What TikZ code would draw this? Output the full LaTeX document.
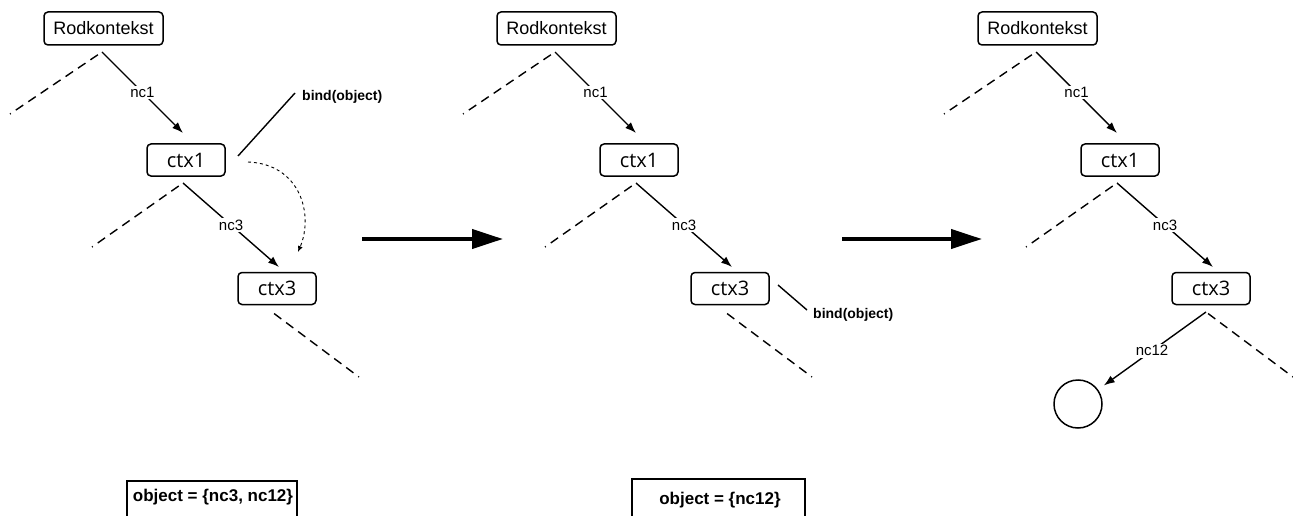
\documentclass[tikz,border=0pt]{standalone}
\usepackage{fontspec}
\setmainfont{Liberation Sans}
\newfontfamily\ctxfont{Open Sans}
\usetikzlibrary{arrows.meta}
\begin{document}
\begin{tikzpicture}[x=1pt,y=-1pt,
  rootbox/.style={draw,line width=1.5pt,rounded corners=4pt,minimum width=119pt,minimum height=33pt,inner sep=0pt,font=\fontsize{18}{20}\selectfont},
  ctxbox/.style={draw,line width=1.5pt,rounded corners=4pt,minimum width=78pt,minimum height=32pt,inner sep=0pt,font=\ctxfont\fontsize{20}{22}\selectfont},
  edge/.style={line width=1.4pt},
  stub/.style={line width=1.4pt,dash pattern=on 9pt off 6pt,dash phase=8pt},
  tip/.style={-{Latex[length=11pt,width=8pt]}},
  elabel/.style={fill=white,inner sep=1.5pt,font=\fontsize{15}{17}\selectfont},
  bindlabel/.style={anchor=west,inner sep=0pt,font=\bfseries\fontsize{14}{16}\selectfont},
  setlabel/.style={anchor=base,inner sep=0pt,font=\bfseries\fontsize{17}{20}\selectfont},
  setbox/.style={draw,line width=1.5pt,anchor=north,minimum height=60pt,inner sep=0pt},
  bigarrow/.style={line width=4pt,-{Triangle[length=31pt,width=19pt]}},
  moveedge/.style={line width=0.9pt,dash pattern=on 3pt off 3pt,-{Latex[length=6pt,width=5pt]}}]
\clip (0,0) rectangle (1293,516);
\path[use as bounding box] (0,0) rectangle (1293,516);

% three snapshots of the context tree
\foreach \o/\p in {0/a,453/b,934/c}{
  \node[rootbox] (root\p) at (103.5+\o,28.5) {Rodkontekst};
  \node[ctxbox] (one\p) at (186+\o,160) {ctx1};
  \node[ctxbox] (three\p) at (277+\o,288.5) {ctx3};
  % branch points below each box
  \coordinate (ra\p) at (102+\o,52);
  \coordinate (oa\p) at (183+\o,183);
  \coordinate (ta\p) at (272+\o,312);
  % loose ends of the dashed branches
  \coordinate (rl\p) at (10+\o,114);
  \coordinate (ol\p) at (92+\o,247);
  \coordinate (tr\p) at (359+\o,377);
  % arrow ends
  \coordinate (rt\p) at (183+\o,133);
  \coordinate (ot\p) at (279+\o,267);
  % dashed branches, drawn from the loose end so it finishes in a dot
  \draw[stub] (rl\p) -- (ra\p);
  \draw[stub] (ol\p) -- (oa\p);
  \draw[stub] (tr\p) -- (ta\p);
  \draw[edge,tip] (ra\p) -- node[elabel] {nc1} (rt\p);
  \draw[edge,tip] (oa\p) -- node[elabel] {nc3} (ot\p);
}

% first snapshot: binding at ctx1 and the move towards ctx3
\node[bindlabel] (binda) at (302,97) {bind(object)};
\coordinate (bsa) at (238,156);
\coordinate (bea) at (295,93);
\draw[edge] (bsa) -- (bea);
\coordinate (mvs) at (248,162);
\coordinate (mve) at (298,252);
\draw[moveedge] (mvs) .. controls (300,164) and (314,214) .. (mve);

% second snapshot: binding at ctx3
\node[bindlabel] (bindb) at (813,315) {bind(object)};
\coordinate (bsb) at (778,285);
\coordinate (beb) at (807,310);
\draw[edge] (bsb) -- (beb);

% third snapshot: bound object below ctx3
\node[draw,circle,line width=1.5pt,minimum size=48pt,inner sep=0pt] (obj) at (1078,404) {};
\draw[edge,tip,shorten >=7pt] (tac) -- node[elabel] {nc12} (obj);

% transitions between snapshots
\coordinate (g1s) at (362,239);
\coordinate (g1e) at (503,239);
\coordinate (g2s) at (842,239);
\coordinate (g2e) at (982,239);
\draw[bigarrow] (g1s) -- (g1e);
\draw[bigarrow] (g2s) -- (g2e);

% contents of the object name set
\node[setbox,minimum width=170pt] (boxa) at (212,480) {};
\node[setlabel] (seta) at (213,501) {object = \{nc3, nc12\}};
\node[setbox,minimum width=173pt] (boxb) at (718.5,478) {};
\node[setlabel] (setb) at (720,504) {object = \{nc12\}};
\end{tikzpicture}
\end{document}
